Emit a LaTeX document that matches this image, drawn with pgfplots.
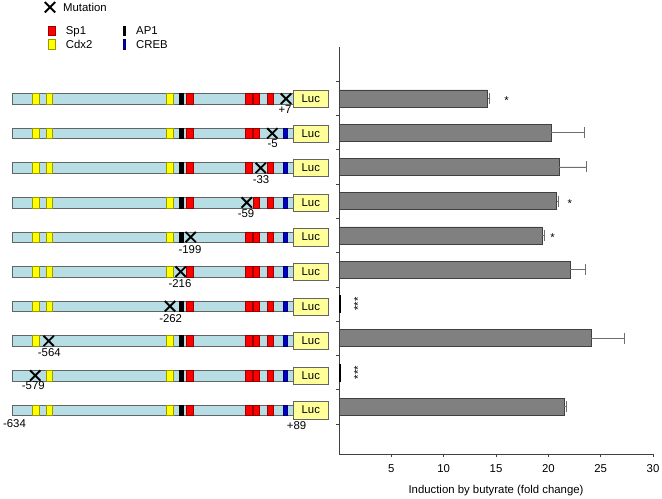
\documentclass[border=0pt]{standalone}
\usepackage{pgfplots}
\pgfplotsset{compat=1.18}
\usepackage{fontspec}
\setmainfont{Liberation Sans}
\definecolor{promo}{RGB}{183,222,228}
\definecolor{lucc}{RGB}{255,255,153}
\definecolor{spred}{RGB}{255,0,0}
\definecolor{cdy}{RGB}{255,255,0}
\definecolor{crebb}{RGB}{0,0,200}
\definecolor{barg}{RGB}{128,128,128}
\definecolor{bard}{RGB}{64,64,64}
\definecolor{errc}{RGB}{110,110,110}
\definecolor{bord}{RGB}{100,100,100}
\newcommand\elem[4]{\draw[fill=#1,draw=#1!60!black,line width=0.4pt] (axis cs:#2,#4) ++(0,-5.3bp) rectangle ++(#3bp,10.6bp);}
\newcommand\construct[2]{%
 \draw[fill=promo,draw=bord,line width=0.6pt] (axis cs:12.3,#1) ++(0,-5.3bp) rectangle ++(281bp,10.6bp);
 \ifnum#2=1 \else\elem{cdy}{32.3}{6.7}{#1}\fi
 \ifnum#2=2 \else\elem{cdy}{45.7}{6.6}{#1}\fi
 \ifnum#2=3 \else\elem{cdy}{166}{6.7}{#1}\fi
 \ifnum#2=4 \else\elem{black}{179.3}{3.4}{#1}\fi
 \ifnum#2=5 \else\elem{spred}{186}{6.7}{#1}\fi
 \ifnum#2=6 \else\elem{spred}{245}{6.7}{#1}\fi
 \ifnum#2=7 \else\elem{spred}{252.7}{6.6}{#1}\fi
 \ifnum#2=8 \else\elem{spred}{266.7}{6.6}{#1}\fi
 \ifnum#2=9 \else\elem{crebb}{282.7}{4}{#1}\fi
 \draw[fill=lucc,draw=bord,line width=0.6pt] (axis cs:293.3,#1) ++(0,-8.7bp) rectangle ++(35.4bp,17.2bp);
 \node at (axis cs:310.8,#1) {Luc};
}
\pgfplotstableread{
r v e
1 14.2 0.2
2 20.3 3.1
3 21.0 2.65
4 20.8 0.15
5 19.4 0.2
6 22.1 1.45
8 24.1 3.15
10 21.5 0.2
}\bars
\pgfplotstableread{
r v
7 0.08
9 0.08
}\barszero
\begin{document}
\begin{tikzpicture}[font=\fontsize{11.4}{13.7}\selectfont]
\useasboundingbox (0,0) rectangle (662bp,499bp);
% left: constructs (coordinates in pixels of the figure)
\begin{axis}[at={(0,0)}, anchor=south west, width=662bp, height=499bp, scale only axis,
  xmin=0, xmax=662, ymin=0, ymax=499, y dir=reverse, hide axis, clip=false]
 \construct{98.7}{9}
 \construct{133.3}{8}
 \construct{167.9}{7}
 \construct{202.5}{6}
 \construct{237.1}{5}
 \construct{271.7}{4}
 \construct{306.3}{3}
 \construct{340.9}{2}
 \construct{375.5}{1}
 \construct{410.1}{0}
 % legend boxes
 \draw[fill=spred,draw=spred!60!black,line width=0.4pt] (axis cs:48.3,26) rectangle (axis cs:55,35.7);
 \draw[fill=cdy,draw=cdy!60!black,line width=0.4pt] (axis cs:48.3,39) rectangle (axis cs:55,49);
 \draw[fill=black,line width=0.4pt] (axis cs:122.7,26) rectangle (axis cs:125.3,35.7);
 \draw[fill=crebb,draw=crebb!60!black,line width=0.4pt] (axis cs:122.7,39) rectangle (axis cs:125.3,49);
 \node[anchor=base west, inner sep=0pt] at (axis cs:63,11.9) {Mutation};
 \node[anchor=base west, inner sep=0pt] at (axis cs:65.7,35) {Sp1};
 \node[anchor=base west, inner sep=0pt] at (axis cs:65.7,48.3) {Cdx2};
 \node[anchor=base west, inner sep=0pt] at (axis cs:136,35) {AP1};
 \node[anchor=base west, inner sep=0pt] at (axis cs:136,48.3) {CREB};
 % mutation marks
 \addplot[only marks, mark=x, mark size=7.3bp, mark options={line width=1.9bp, draw=black}]
  coordinates {(286,98.7) (272.3,133.3) (260.7,167.9) (246.7,202.5) (190.7,237.1)
   (180.7,271.7) (170,306.3) (48.7,340.9) (35.3,375.5) (50,7.3)};
 % position labels
 \node[anchor=base] at (axis cs:285,113.5) {+7};
 \node[anchor=base] at (axis cs:272.7,147.2) {-5};
 \node[anchor=base] at (axis cs:261,183.4) {-33};
 \node[anchor=base] at (axis cs:246,217.4) {-59};
 \node[anchor=base] at (axis cs:190,253.4) {-199};
 \node[anchor=base] at (axis cs:180,287.4) {-216};
 \node[anchor=base] at (axis cs:170.7,322.4) {-262};
 \node[anchor=base] at (axis cs:49.3,356.4) {-564};
 \node[anchor=base] at (axis cs:33.3,389.8) {-579};
 \node[anchor=base] at (axis cs:14.5,427.4) {-634};
 \node[anchor=base] at (axis cs:296.5,429.1) {+89};
\end{axis}
% right: bar chart
\begin{axis}[at={(339bp,45bp)}, anchor=south west, width=314bp, height=407bp, scale only axis,
  xmin=0, xmax=30, ymin=-0.5, ymax=11.38, y dir=reverse,
  axis x line*=bottom, axis y line*=left,
  xtick={5,10,...,30}, ytick={0.5,1.5,...,10.5}, yticklabels={},
  tick align=outside, major tick length=3bp,
  axis line style={draw=bard, line width=0.6pt},
  every tick/.style={draw=bard, line width=0.6pt},
  /pgf/number format/assume math mode=true,
  xticklabel style={yshift=-4bp},
  xlabel={Induction by butyrate (fold change)},
  xlabel style={at={(axis description cs:0.5,0)}, anchor=base, yshift=-39bp},
  clip=false]
 \addplot[xbar, bar width=17bp, fill=barg, draw=bard, line width=0.6pt,
   error bars/.cd, x dir=plus, x explicit, error mark=|,
   error bar style={draw=errc, line width=0.7pt},
   error mark options={draw=errc, mark size=5.5bp, line width=0.7pt}]
   table[x=v, y=r, x error=e] {\bars};
 \addplot[xbar, bar width=17bp, fill=barg, draw=black, line width=0.6pt]
   table[x=v, y=r] {\barszero};
 \node[anchor=base, yshift=-6.5bp] at (axis cs:16,1) {*};
 \node[anchor=base, yshift=-6.5bp] at (axis cs:22.05,4) {*};
 \node[anchor=base, yshift=-6.5bp] at (axis cs:20.4,5) {*};
 \node[rotate=90] at (axis cs:1.8,7) {***};
 \node[rotate=90] at (axis cs:1.8,9) {***};
\end{axis}
\end{tikzpicture}
\end{document}
